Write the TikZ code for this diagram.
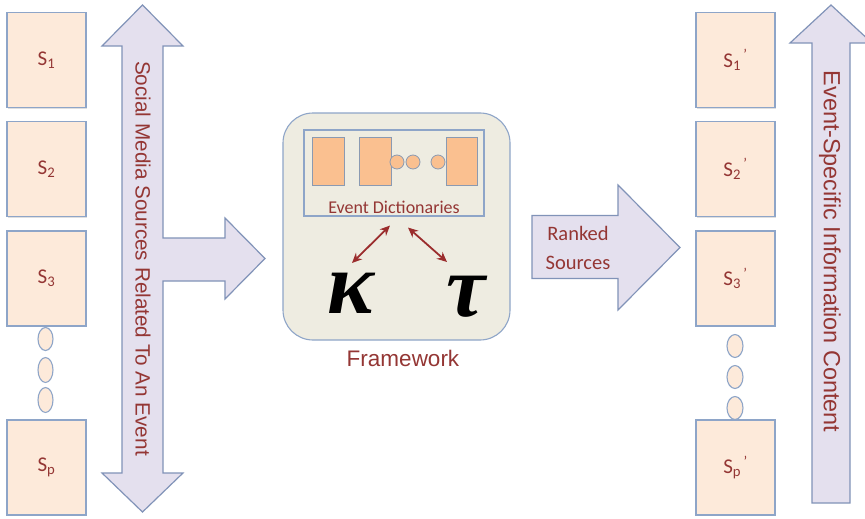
\documentclass[tikz,border=0pt]{standalone}
\usepackage{fontspec}
\setmainfont{Carlito}
\newfontfamily\arialf{Liberation Sans}
\newfontfamily\timesf{Liberation Serif}
\usetikzlibrary{calc,arrows.meta,shadows,shapes.geometric}
\definecolor{boxfill}{HTML}{FDEADA}
\definecolor{boxdraw}{HTML}{8EA5C8}
\definecolor{txtred}{HTML}{943634}
\definecolor{arrfill}{HTML}{E4E0EE}
\definecolor{arrdraw}{HTML}{8193B8}
\definecolor{fwfill}{HTML}{EEECE1}
\definecolor{orangef}{HTML}{FAC090}
\definecolor{dblred}{HTML}{9B2D2D}
\tikzset{
  srcbox/.style={draw=boxdraw, fill=boxfill, line width=1.1pt, minimum width=79pt, minimum height=95pt,
    inner sep=0pt, text=txtred, font=\fontsize{21}{24}\selectfont,
    drop shadow={shadow xshift=1.2pt, shadow yshift=-1.2pt, opacity=0.25, fill=gray}},
  dots/.style={draw=boxdraw, fill=boxfill, line width=1.1pt, ellipse, inner sep=0pt},
  bigarrow/.style={draw=arrdraw, fill=arrfill, line width=1.2pt, line join=miter},
  orbox/.style={draw=boxdraw!70!gray, fill=orangef, line width=0.8pt, minimum width=32pt, minimum height=48pt, inner sep=0pt},
  orcirc/.style={draw=boxdraw!70!gray, fill=orangef, line width=0.8pt, circle, minimum size=14pt, inner sep=0pt},
  dblarrow/.style={draw=dblred, line width=1.8pt, {Stealth[length=10pt,width=9pt]}-{Stealth[length=10pt,width=9pt]}},
  greek/.style={font=\timesf\bfseries\itshape\fontsize{88}{88}\selectfont, inner sep=0pt, anchor=base},
}
\begin{document}
\begin{tikzpicture}[x=1pt,y=-1pt]
\useasboundingbox (0,0) rectangle (865,519);
\clip (0,0) rectangle (865,519);
\fill[white] (0,0) rectangle (865,519);

% left sources
\node[srcbox] (s1) at (46.5,60) {S\textsubscript{1}};
\node[srcbox] (s2) at (46.5,169) {S\textsubscript{2}};
\node[srcbox] (s3) at (46.5,278.5) {S\textsubscript{3}};
\node[dots, minimum width=15pt, minimum height=23pt] (l1) at (45.5,339) {};
\node[dots, minimum width=15pt, minimum height=25pt] (l2) at (45.5,370) {};
\node[dots, minimum width=15pt, minimum height=25pt] (l3) at (45.5,400) {};
\node[srcbox] (sp) at (46.5,467.5) {S\textsubscript{p}};

% left big arrow
\draw[bigarrow] (142.5,5) -- (183,46) -- (163,46) -- (163,238) -- (225,238) -- (225,218)
  -- (265,258.5) -- (225,299) -- (225,281) -- (163,281) -- (163,473) -- (183,473)
  -- (142.5,512) -- (102,473) -- (122,473) -- (122,46) -- (102,46) -- cycle;
\node[rotate=-90, text=txtred, font=\arialf\fontsize{20.7}{24}\selectfont, inner sep=0pt] (ltext) at (143,258.5)
  {Social Media Sources Related To An Event};

% framework
\node[draw=boxdraw, fill=fwfill, line width=1.1pt, rounded corners=30pt, minimum width=227pt, minimum height=227pt] (fw) at (396.5,226.5) {};
\node[draw=boxdraw, line width=1.1pt, minimum width=180pt, minimum height=86pt, inner sep=0pt] (dict) at (394,173) {};
\node[orbox] (o1) at (328,161) {};
\node[orbox] (o2) at (375,161) {};
\node[orbox, minimum width=31pt] (o3) at (461.5,161) {};
\node[orcirc] (c1) at (397,162) {};
\node[orcirc] (c2) at (413,162) {};
\node[orcirc] (c3) at (438,162) {};
\node[text=txtred, font=\fontsize{18}{20}\selectfont, inner sep=0pt] (dtext) at (394,207) {Event Dictionaries};
\node[greek] (kappa) at (351,313) {κ};
\node[greek] (tau) at (466,316) {τ};
\draw[dblarrow] ($(dict.south)+(-4,9)$) -- ($(kappa.base)+(1,-50)$);
\draw[dblarrow] ($(dict.south)+(14,11)$) -- ($(tau.base)+(-19,-54)$);
\node[text=txtred, font=\arialf\fontsize{22.5}{26}\selectfont, inner sep=0pt] (fwtext) at (403,358) {Framework};

% ranked arrow
\draw[bigarrow] (532,215.5) -- (618,215.5) -- (618,185) -- (680,247.5) -- (618,310) -- (618,278.5) -- (532,278.5) -- cycle;
\node[text=txtred, align=center, font=\fontsize{20.5}{29}\selectfont, inner sep=0pt] (rtext) at (578,247.5) {Ranked\\Sources};

% right sources
\node[srcbox] (r1) at (735.5,60) {S\textsubscript{1}\textsuperscript{\,’}};
\node[srcbox] (r2) at (735.5,169) {S\textsubscript{2}\textsuperscript{\,’}};
\node[srcbox] (r3) at (735.5,278.5) {S\textsubscript{3}\textsuperscript{\,’}};
\node[dots, minimum width=16pt, minimum height=23pt] (q1) at (735,346) {};
\node[dots, minimum width=16pt, minimum height=23pt] (q2) at (735,377) {};
\node[dots, minimum width=16pt, minimum height=23pt] (q3) at (735,408) {};
\node[srcbox] (rp) at (735.5,467.5) {S\textsubscript{p}\textsuperscript{\,’}};

% right big arrow
\draw[bigarrow] (831,5) -- (872,43) -- (850,43) -- (850,503) -- (812,503) -- (812,43) -- (790,43) -- cycle;
\node[rotate=-90, text=txtred, font=\arialf\fontsize{23.4}{26}\selectfont, inner sep=0pt] (rtxt) at (830,251.5)
  {Event-Specific Information Content};
\end{tikzpicture}
\end{document}
